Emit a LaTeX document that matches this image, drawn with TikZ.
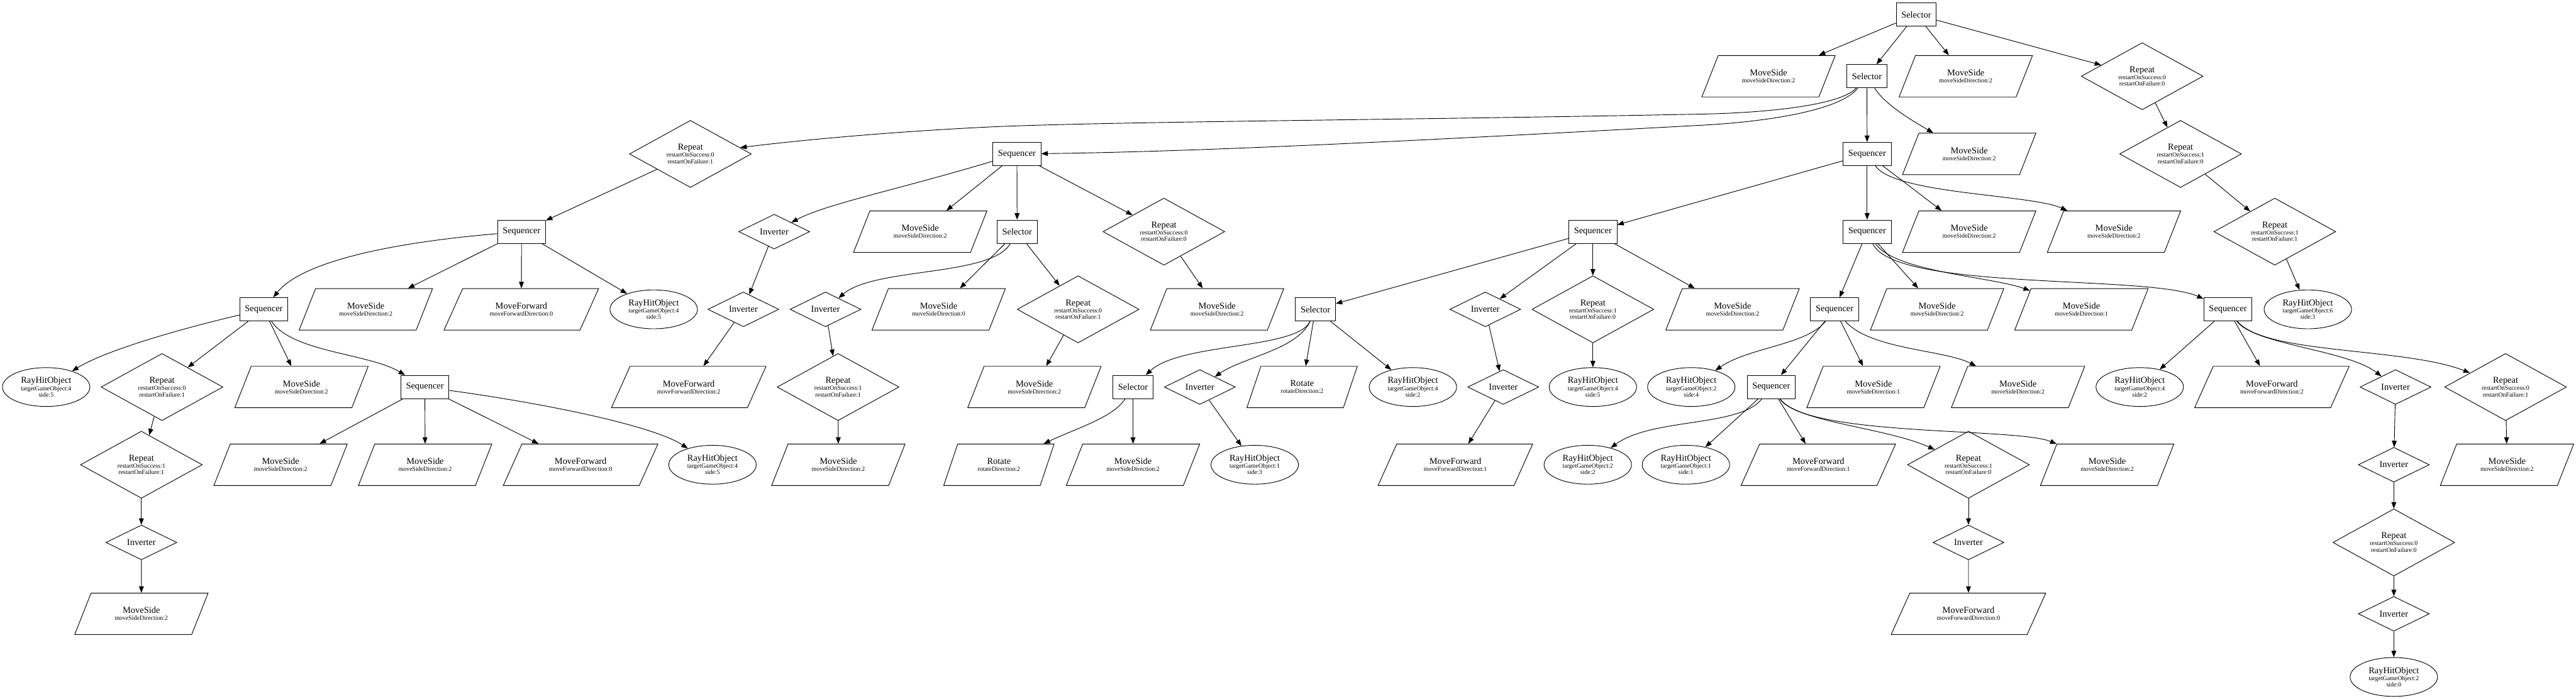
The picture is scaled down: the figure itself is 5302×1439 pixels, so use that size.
\documentclass[tikz,border=0pt]{standalone}
\usepackage{fontspec}
\setmainfont{Liberation Serif}
\usetikzlibrary{shapes.geometric,arrows.meta}
\newcommand{\nodetitle}[1]{{\fontsize{14}{10}\selectfont #1}}
\newcommand{\lms}[1]{\nodetitle{MoveSide}\\[0.7pt]moveSideDirection:#1}
\newcommand{\lmf}[1]{\nodetitle{MoveForward}\\[0.7pt]moveForwardDirection:#1}
\newcommand{\lro}[1]{\nodetitle{Rotate}\\[0.7pt]rotateDirection:#1}
\newcommand{\lrep}[2]{\nodetitle{Repeat}\\[0.7pt]restartOnSuccess:#1\\restartOnFailure:#2}
\newcommand{\lray}[2]{\nodetitle{RayHitObject}\\[0.7pt]targetGameObject:#1\\side:#2}
\begin{document}
\begin{tikzpicture}[x=0.75pt,y=-0.75pt,
  font=\fontsize{9.6}{10}\selectfont,
  base/.style={draw, line width=0.9pt, align=center, inner sep=0pt},
  bx/.style={base, rectangle, minimum height=36pt, minimum width=54pt, inner xsep=8pt},
  rp/.style={base, diamond, minimum width=188pt, minimum height=83pt},
  iv/.style={base, diamond, minimum width=109.5pt, minimum height=36pt},
  el/.style={base, ellipse, minimum width=135pt, minimum height=60pt},
  pg/.style={base, trapezium, trapezium stretches=true, trapezium left angle=57, trapezium right angle=123, minimum width=206pt, minimum height=64pt},
  pf/.style={pg, trapezium left angle=53, trapezium right angle=127, minimum width=239pt},
  pr/.style={pg, trapezium left angle=61, trapezium right angle=119, minimum width=172pt},
  con/.style={line width=0.9pt, -{Triangle[length=10pt,width=7.5pt]}}
]
\useasboundingbox (0,0) rectangle (5302,1439);
% level 0
\node[bx] (r) at (3944,30) {\nodetitle{Selector}};
% level 1
\node[pg] (m1) at (3640,157) {\lms{2}};
\node[bx] (s2) at (3842.5,157) {\nodetitle{Selector}};
\node[pg] (m2) at (4046,157) {\lms{2}};
\node[rp] (rp1) at (4409,157) {\lrep{0}{0}};
% level 2
\node[rp] (rp2) at (1421,317) {\lrep{0}{1}};
\node[bx] (sqC) at (2093,317) {\nodetitle{Sequencer}};
\node[bx] (sqE) at (3843,317) {\nodetitle{Sequencer}};
\node[pg] (m3) at (4053,317) {\lms{2}};
\node[rp] (rp3) at (4488,317) {\lrep{1}{0}};
% level 3
\node[bx] (sqB) at (1073.5,477) {\nodetitle{Sequencer}};
\node[iv] (inv1) at (1593.5,477) {\nodetitle{Inverter}};
\node[pg] (m4) at (1894,477) {\lms{2}};
\node[bx] (selC) at (2093.5,477) {\nodetitle{Selector}};
\node[rp] (rp4) at (2395.5,477) {\lrep{0}{0}};
\node[bx] (sqD) at (3278.5,477) {\nodetitle{Sequencer}};
\node[bx] (sqF) at (3843,477) {\nodetitle{Sequencer}};
\node[pg] (m5) at (4053,477) {\lms{2}};
\node[pg] (m6) at (4351,477) {\lms{2}};
\node[rp] (rp5) at (4682,477) {\lrep{1}{1}};
% level 4
\node[bx] (sqA) at (543,637) {\nodetitle{Sequencer}};
\node[pg] (m7) at (753,637) {\lms{2}};
\node[pf] (f1) at (1073,637) {\lmf{0}};
\node[el] (h1) at (1345.5,637) {\lray{4}{5}};
\node[iv] (inv2) at (1530,637) {\nodetitle{Inverter}};
\node[iv] (inv3) at (1699,637) {\nodetitle{Inverter}};
\node[pg] (m8) at (1932,637) {\lms{0}};
\node[rp] (rp6) at (2219,637) {\lrep{0}{1}};
\node[pg] (m9) at (2505,637) {\lms{2}};
\node[bx] (selD) at (2707.5,637) {\nodetitle{Selector}};
\node[iv] (inv4) at (3057,637) {\nodetitle{Inverter}};
\node[rp] (rp7) at (3278.5,637) {\lrep{1}{0}};
\node[pg] (m10) at (3566,637) {\lms{2}};
\node[bx] (sqG) at (3776,637) {\nodetitle{Sequencer}};
\node[pg] (m11) at (3987,637) {\lms{2}};
\node[pg] (m12) at (4284,637) {\lms{1}};
\node[bx] (sqH) at (4585.5,637) {\nodetitle{Sequencer}};
\node[el] (h2) at (4750,637) {\lray{6}{3}};
% level 5
\node[el] (h3) at (95,797) {\lray{4}{5}};
\node[rp] (rp8) at (333.5,797) {\lrep{0}{1}};
\node[pg] (m13) at (620.5,797) {\lms{2}};
\node[bx] (sqI) at (874.5,797) {\nodetitle{Sequencer}};
\node[pf] (f2) at (1417.5,797) {\lmf{2}};
\node[rp] (rp9) at (1725,797) {\lrep{1}{1}};
\node[pg] (m14) at (2129,797) {\lms{2}};
\node[bx] (selK) at (2332,797) {\nodetitle{Selector}};
\node[iv] (inv5) at (2469.5,797) {\nodetitle{Inverter}};
\node[pr] (ro1) at (2680,797) {\lro{2}};
\node[el] (h4) at (2908,797) {\lray{4}{2}};
\node[iv] (inv6) at (3094,797) {\nodetitle{Inverter}};
\node[el] (h5) at (3278.5,797) {\lray{4}{5}};
\node[el] (h6) at (3481,797) {\lray{2}{4}};
\node[bx] (sqJ) at (3645.5,797) {\nodetitle{Sequencer}};
\node[pg] (m15) at (3856,797) {\lms{1}};
\node[pg] (m16) at (4153.5,797) {\lms{2}};
\node[el] (h7) at (4404,797) {\lray{4}{2}};
\node[pf] (f3) at (4676,797) {\lmf{2}};
\node[iv] (inv7) at (4930.5,797) {\nodetitle{Inverter}};
\node[rp] (rp10) at (5157,797) {\lrep{0}{1}};
% level 6
\node[rp] (rp11) at (291,957) {\lrep{1}{1}};
\node[pg] (m17) at (577.5,957) {\lms{2}};
\node[pg] (m18) at (875,957) {\lms{2}};
\node[pf] (f4) at (1195,957) {\lmf{0}};
\node[el] (h8) at (1466.5,957) {\lray{4}{5}};
\node[pg] (m19) at (1725.5,957) {\lms{2}};
\node[pr] (ro2) at (2056,957) {\lro{2}};
\node[pg] (m20) at (2332,957) {\lms{2}};
\node[el] (h9) at (2582.5,957) {\lray{1}{3}};
\node[pf] (f5) at (2995.5,957) {\lmf{1}};
\node[el] (h10) at (3268,957) {\lray{2}{2}};
\node[el] (h11) at (3470,957) {\lray{1}{1}};
\node[pf] (f6) at (3742.5,957) {\lmf{1}};
\node[rp] (rp12) at (4051.5,957) {\lrep{1}{0}};
\node[pg] (m21) at (4337,957) {\lms{2}};
\node[iv] (inv8) at (4927,957) {\nodetitle{Inverter}};
\node[pg] (m22) at (5160,957) {\lms{2}};
% level 7
\node[iv] (inv9) at (291,1117) {\nodetitle{Inverter}};
\node[iv] (inv10) at (4051.5,1117) {\nodetitle{Inverter}};
\node[rp] (rp13) at (4927,1117) {\lrep{0}{0}};
% level 8
\node[pg] (m23) at (291,1264) {\lms{2}};
\node[pf] (f7) at (4051.5,1264) {\lmf{0}};
\node[iv] (inv11) at (4927,1264) {\nodetitle{Inverter}};
% level 9
\node[el] (h12) at (4927,1394) {\lray{2}{0}};

% ---- connectors ----
\draw[con] (r) -- (m1);
\draw[con] (r) -- (s2);
\draw[con] (r) -- (m2);
\draw[con] (r) -- (rp1);
\draw[con] (s2) .. controls (3790,215) and (3650,232) .. (3500,235) .. controls (2900,247) and (2300,250) .. (2047,261) .. controls (1850,270) and (1650,288) .. (rp2);
\draw[con] (s2) .. controls (3790,225) and (3650,250) .. (3500,258) .. controls (3000,285) and (2500,312) .. (sqC);
\draw[con] (s2) -- (sqE);
\draw[con] (s2) .. controls (3880,215) and (3930,245) .. (m3);
\draw[con] (rp1) -- (rp3);
\draw[con] (rp3) -- (rp5);
\draw[con] (rp5) -- (h2);
\draw[con] (rp2) -- (sqB);
\draw[con] (sqB) .. controls (800,500) and (620,540) .. (sqA);
\draw[con] (sqB) -- (m7);
\draw[con] (sqB) -- (f1);
\draw[con] (sqB) -- (h1);
\draw[con] (sqA) .. controls (380,675) and (220,720) .. (h3);
\draw[con] (sqA) -- (rp8);
\draw[con] (sqA) -- (m13);
\draw[con] (sqA) .. controls (600,725) and (760,728) .. (sqI);
\draw[con] (rp8) -- (rp11);
\draw[con] (rp11) -- (inv9);
\draw[con] (inv9) -- (m23);
\draw[con] (sqI) -- (m17);
\draw[con] (sqI) -- (m18);
\draw[con] (sqI) -- (f4);
\draw[con] (sqI) .. controls (1150,835) and (1350,880) .. (h8);
\draw[con] (sqC) .. controls (1850,390) and (1700,420) .. (inv1);
\draw[con] (sqC) -- (m4);
\draw[con] (sqC) -- (selC);
\draw[con] (sqC) -- (rp4);
\draw[con] (inv1) -- (inv2);
\draw[con] (inv2) -- (f2);
\draw[con] (selC) .. controls (2040,570) and (1800,550) .. (inv3);
\draw[con] (selC) -- (m8);
\draw[con] (selC) -- (rp6);
\draw[con] (inv3) -- (rp9);
\draw[con] (rp9) -- (m19);
\draw[con] (rp6) -- (m14);
\draw[con] (rp4) -- (m9);
\draw[con] (sqE) -- (sqD);
\draw[con] (sqE) -- (sqF);
\draw[con] (sqE) -- (m5);
\draw[con] (sqE) .. controls (3900,400) and (4180,400) .. (m6);
\draw[con] (sqD) -- (selD);
\draw[con] (sqD) -- (inv4);
\draw[con] (sqD) -- (rp7);
\draw[con] (sqD) -- (m10);
\draw[con] (selD) .. controls (2670,720) and (2430,705) .. (selK);
\draw[con] (selD) .. controls (2670,720) and (2560,735) .. (inv5);
\draw[con] (selD) -- (ro1);
\draw[con] (selD) -- (h4);
\draw[con] (selK) .. controls (2290,860) and (2220,880) .. (ro2);
\draw[con] (selK) -- (m20);
\draw[con] (inv5) -- (h9);
\draw[con] (inv4) -- (inv6);
\draw[con] (inv6) -- (f5);
\draw[con] (rp7) -- (h5);
\draw[con] (sqF) -- (sqG);
\draw[con] (sqF) -- (m11);
\draw[con] (sqF) .. controls (3900,560) and (4100,570) .. (m12);
\draw[con] (sqF) .. controls (3900,600) and (4420,565) .. (sqH);
\draw[con] (sqG) .. controls (3720,710) and (3600,715) .. (h6);
\draw[con] (sqG) -- (sqJ);
\draw[con] (sqG) -- (m15);
\draw[con] (sqG) .. controls (3850,720) and (4000,720) .. (m16);
\draw[con] (sqJ) .. controls (3580,880) and (3400,860) .. (h10);
\draw[con] (sqJ) -- (h11);
\draw[con] (sqJ) -- (f6);
\draw[con] (sqJ) .. controls (3700,870) and (3880,880) .. (rp12);
\draw[con] (sqJ) .. controls (3720,900) and (4150,880) .. (m21);
\draw[con] (rp12) -- (inv10);
\draw[con] (inv10) -- (f7);
\draw[con] (sqH) -- (h7);
\draw[con] (sqH) -- (f3);
\draw[con] (sqH) .. controls (4640,710) and (4830,720) .. (inv7);
\draw[con] (sqH) .. controls (4660,730) and (4950,715) .. (rp10);
\draw[con] (inv7) -- (inv8);
\draw[con] (inv8) -- (rp13);
\draw[con] (rp13) -- (inv11);
\draw[con] (inv11) -- (h12);
\draw[con] (rp10) -- (m22);
\end{tikzpicture}
\end{document}
